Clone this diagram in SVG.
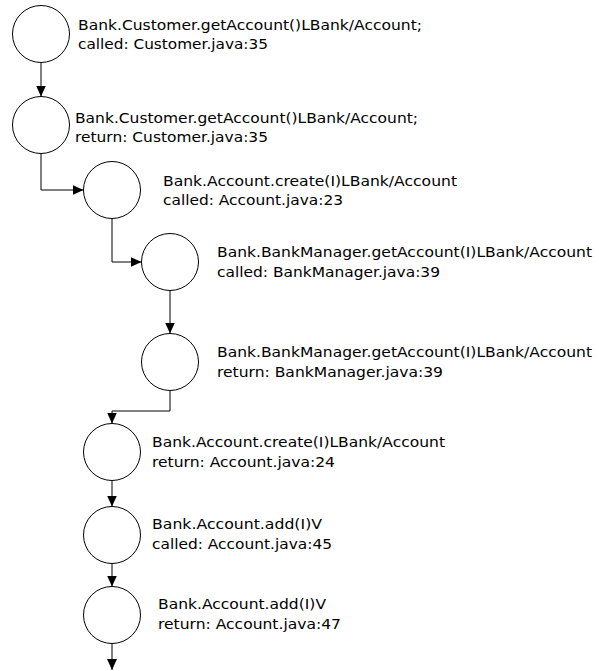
<svg xmlns="http://www.w3.org/2000/svg" width="599" height="671" viewBox="0 0 599 671">
<style>
.n{fill:#fff;stroke:#000;stroke-width:1}
.c{fill:none;stroke:#000;stroke-width:1;marker-end:url(#a)}
text{font-family:Tahoma,"DejaVu Sans",sans-serif;font-size:14px;fill:#000}
</style>
<defs>
<marker id="a" markerUnits="userSpaceOnUse" markerWidth="11" markerHeight="10" refX="11" refY="5" orient="auto"><path d="M0,0L11,5L0,10z" fill="#000"/></marker>
</defs>
<rect width="599" height="671" fill="#fff"/>
<g id="connectors">
<path class="c" d="M41,62.5V96.5"/>
<path class="c" d="M41,153.5V190H83.5"/>
<path class="c" d="M112,218.5V262H141.5"/>
<path class="c" d="M170,290.5V333.5"/>
<path class="c" d="M170,390.5V411H112V423.5"/>
<path class="c" d="M112,480.5V506.5"/>
<path class="c" d="M112,563.5V586.5"/>
<path class="c" d="M112,643.5V670"/>
</g>
<g id="n1"><circle class="n" cx="41" cy="34" r="28.5"/><text x="78" y="30" textLength="344" lengthAdjust="spacingAndGlyphs">Bank.Customer.getAccount()LBank/Account;</text><text x="78" y="49" textLength="190" lengthAdjust="spacingAndGlyphs">called: Customer.java:35</text></g>
<g id="n2"><circle class="n" cx="41" cy="125" r="28.5"/><text x="75" y="123" textLength="343" lengthAdjust="spacingAndGlyphs">Bank.Customer.getAccount()LBank/Account;</text><text x="75" y="142" textLength="193" lengthAdjust="spacingAndGlyphs">return: Customer.java:35</text></g>
<g id="n3"><circle class="n" cx="112" cy="190" r="28.5"/><text x="163" y="186" textLength="294" lengthAdjust="spacingAndGlyphs">Bank.Account.create(I)LBank/Account</text><text x="163" y="205" textLength="180" lengthAdjust="spacingAndGlyphs">called: Account.java:23</text></g>
<g id="n4"><circle class="n" cx="170" cy="262" r="28.5"/><text x="217" y="257" textLength="375" lengthAdjust="spacingAndGlyphs">Bank.BankManager.getAccount(I)LBank/Account</text><text x="217" y="277" textLength="223" lengthAdjust="spacingAndGlyphs">called: BankManager.java:39</text></g>
<g id="n5"><circle class="n" cx="170" cy="362" r="28.5"/><text x="217" y="357" textLength="375" lengthAdjust="spacingAndGlyphs">Bank.BankManager.getAccount(I)LBank/Account</text><text x="217" y="377" textLength="226" lengthAdjust="spacingAndGlyphs">return: BankManager.java:39</text></g>
<g id="n6"><circle class="n" cx="112" cy="452" r="28.5"/><text x="152" y="447" textLength="293" lengthAdjust="spacingAndGlyphs">Bank.Account.create(I)LBank/Account</text><text x="152" y="467" textLength="183" lengthAdjust="spacingAndGlyphs">return: Account.java:24</text></g>
<g id="n7"><circle class="n" cx="112" cy="535" r="28.5"/><text x="152" y="529" textLength="170" lengthAdjust="spacingAndGlyphs">Bank.Account.add(I)V</text><text x="152" y="549" textLength="180" lengthAdjust="spacingAndGlyphs">called: Account.java:45</text></g>
<g id="n8"><circle class="n" cx="112" cy="615" r="28.5"/><text x="158" y="609" textLength="168" lengthAdjust="spacingAndGlyphs">Bank.Account.add(I)V</text><text x="158" y="629" textLength="183" lengthAdjust="spacingAndGlyphs">return: Account.java:47</text></g>
</svg>
